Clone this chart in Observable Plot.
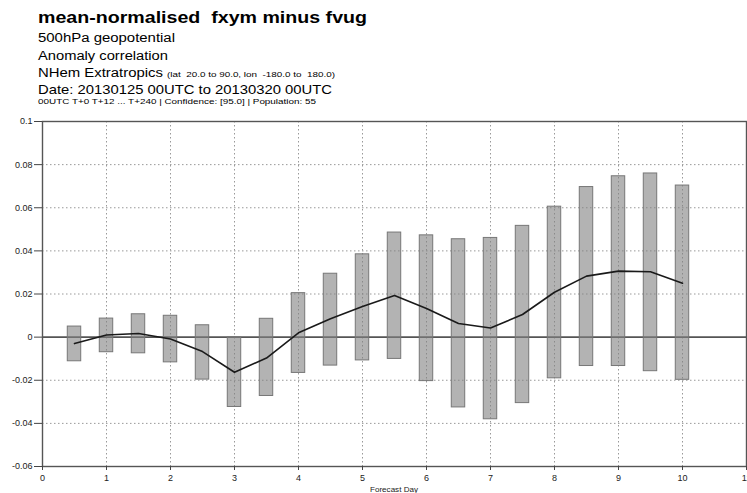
<!DOCTYPE html>
<html>
<head>
<meta charset="utf-8">
<script src="https://cdn.jsdelivr.net/npm/d3@7"></script>
<script src="https://cdn.jsdelivr.net/npm/@observablehq/plot@0.6"></script>
<style>
  html, body { margin: 0; padding: 0; background: #fff; width: 747px; height: 493px; overflow: hidden; }
  body { position: relative; font-family: "Liberation Sans", Arial, sans-serif; color: #000; }
  #chart { position: absolute; left: 0; top: 110px; }
  #overlay { position: absolute; left: 0; top: 0; pointer-events: none; font-family: "Liberation Sans", Arial, sans-serif; }
  #overlay text { white-space: pre; }
</style>
</head>
<body>
<div id="chart"></div>
<svg id="overlay" width="747" height="493">
  <text x="38" y="23.3" font-size="16.5" font-weight="bold" fill="#000" textLength="329" lengthAdjust="spacingAndGlyphs">mean-normalised  fxym minus fvug</text>
  <text x="38" y="41.5" font-size="12.3" fill="#000" textLength="137" lengthAdjust="spacingAndGlyphs">500hPa geopotential</text>
  <text x="38" y="59.5" font-size="12.3" fill="#000" textLength="130" lengthAdjust="spacingAndGlyphs">Anomaly correlation</text>
  <text x="38" y="77" font-size="12.3" fill="#000" textLength="125" lengthAdjust="spacingAndGlyphs">NHem Extratropics</text>
  <text x="167" y="77" font-size="7.5" fill="#000" textLength="168" lengthAdjust="spacingAndGlyphs">(lat  20.0 to 90.0, lon  -180.0 to  180.0)</text>
  <text x="38" y="93.5" font-size="13.5" fill="#000" textLength="294" lengthAdjust="spacingAndGlyphs">Date: 20130125 00UTC to 20130320 00UTC</text>
  <text x="38" y="104" font-size="7.3" fill="#000" textLength="278" lengthAdjust="spacingAndGlyphs">00UTC T+0 T+12 ... T+240 | Confidence: [95.0] | Population: 55</text>
  <text x="394" y="492" font-size="6.8" fill="#222" text-anchor="middle" textLength="48" lengthAdjust="spacingAndGlyphs">Forecast Day</text>
</svg>
<script>
const forecastDay = [0.5, 1, 1.5, 2, 2.5, 3, 3.5, 4, 4.5, 5, 5.5, 6, 6.5, 7, 7.5, 8, 8.5, 9, 9.5, 10];
const meanDiff   = [-0.003, 0.001, 0.0017, -0.0009, -0.0067, -0.0163, -0.0097, 0.002, 0.0085, 0.0142, 0.0193, 0.0133, 0.0063, 0.0042, 0.0105, 0.0208, 0.0283, 0.0306, 0.0303, 0.025];
const upperCI    = [0.0049, 0.0086, 0.0106, 0.0099, 0.0055, 0.0, 0.0085, 0.0204, 0.0294, 0.0384, 0.0485, 0.0472, 0.0454, 0.046, 0.0516, 0.0605, 0.0696, 0.0746, 0.0759, 0.0703];
const lowerCI    = [-0.0112, -0.007, -0.0075, -0.0117, -0.0197, -0.0324, -0.0273, -0.0166, -0.0132, -0.0108, -0.0101, -0.0204, -0.0326, -0.0381, -0.0306, -0.0191, -0.0134, -0.0134, -0.0158, -0.0198];
const xTicks = [0, 1, 2, 3, 4, 5, 6, 7, 8, 9, 10, 11];
const yTicks = [-0.06, -0.04, -0.02, 0, 0.02, 0.04, 0.06, 0.08, 0.1];

const data = forecastDay.map((d, i) => ({day: d, mean: meanDiff[i], lo: lowerCI[i], hi: upperCI[i]}));
const halfW = 0.105;
const fmt = d => String(+d.toFixed(2));

const chart = Plot.plot({
  width: 747,
  height: 383,
  marginLeft: 42,
  marginRight: 1,
  marginTop: 11,
  marginBottom: 27,
  style: {fontFamily: "Liberation Sans, Arial, sans-serif", fontSize: "9px", color: "#222", background: "#fff"},
  x: {domain: [0, 11], ticks: xTicks, tickFormat: fmt, tickSize: 4, label: null},
  y: {domain: [-0.06, 0.1], ticks: yTicks, tickFormat: fmt, tickSize: 8, label: null},
  marks: [
    Plot.ruleY(yTicks.filter(v => v > -0.06 && v < 0.1 && v !== 0), {stroke: "#999", strokeDasharray: "1.5,2.5", strokeWidth: 1}),
    Plot.ruleX(xTicks.filter(v => v > 0 && v < 11), {stroke: "#999", strokeDasharray: "1.5,2.5", strokeWidth: 1}),
    Plot.ruleY([0], {stroke: "#555", strokeWidth: 1.6}),
    Plot.rect(data, {x1: d => d.day - halfW, x2: d => d.day + halfW, y1: "lo", y2: "hi", fill: "#808080", fillOpacity: 0.6, stroke: "#777", strokeWidth: 1}),
    Plot.line(data, {x: "day", y: "mean", stroke: "#1a1a1a", strokeWidth: 1.6}),
    Plot.frame({stroke: "#555", strokeWidth: 1.4}),
    Plot.axisX({ticks: xTicks, tickFormat: fmt, tickSize: 4, tickPadding: 4, stroke: "#444"}),
    Plot.axisY({ticks: yTicks, tickFormat: fmt, tickSize: 8, tickPadding: 2, stroke: "#444"})
  ]
});
document.getElementById("chart").appendChild(chart);
</script>
</body>
</html>
